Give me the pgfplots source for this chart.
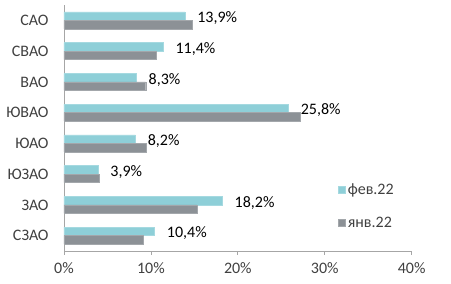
\documentclass[border=0pt]{standalone}
\usepackage{pgfplots}
\pgfplotsset{compat=1.18}
\usepackage{fontspec}
\setmainfont{Carlito}
\definecolor{feb}{HTML}{8ECFD8}
\definecolor{jan}{HTML}{8C9196}
\definecolor{axgray}{HTML}{A6A6A6}
\definecolor{txt}{HTML}{404040}
\begin{document}
\begin{tikzpicture}
\path[use as bounding box] (0,0) rectangle (451pt,284pt);
\begin{axis}[
  at={(64pt,33pt)}, anchor=south west,
  scale only axis, width=347.7pt, height=246pt,
  xbar, bar width=8.5pt,
  xmin=0, xmax=40, ymin=-0.5, ymax=7.5,
  axis x line*=bottom, axis y line*=left,
  axis line style={axgray, line width=0.8pt},
  xtick={0,10,20,30,40},
  xticklabel={\pgfmathprintnumber{\tick}\%},
  /pgf/number format/assume math mode=true,
  ytick={0,...,7},
  yticklabels={СЗАО,ЗАО,ЮЗАО,ЮАО,ЮВАО,ВАО,СВАО,САО},
  minor ytick={-0.5,0.5,...,7.5},
  major tick length=4pt, minor tick length=4pt,
  tick align=outside,
  tick style={axgray, line width=0.8pt},
  ytick style={draw=none},
  minor tick style={axgray, line width=0.8pt, draw=axgray},
  every tick label/.append style={font=\fontsize{16}{18}\selectfont, text=txt},
  xticklabel style={yshift=-4pt},
  yticklabel style={xshift=-8pt},
  legend style={at={(axis description cs:0.78,0.29)}, anchor=north west, draw=none, fill=none,
    font=\fontsize{16}{18}\selectfont, text=txt, row sep=17pt,
    /tikz/every even column/.append style={column sep=2pt}},
  legend cell align=left,
  legend image code/.code={\fill[#1] (0pt,-3.5pt) rectangle (7pt,3.5pt);},
]
\addplot[fill=feb, draw=feb!80!white, bar shift=4.25pt,
  nodes near coords={\pgfmathprintnumber[fixed,fixed zerofill,precision=1,use comma]{\pgfplotspointmeta}\%},
  nodes near coords style={anchor=west, xshift=9pt, yshift=-2pt, font=\fontsize{16}{18}\selectfont, text=black},
  point meta=x]
  coordinates {(10.4,0) (18.2,1) (3.9,2) (8.2,3) (25.8,4) (8.3,5) (11.4,6) (13.9,7)};
\addlegendentry{фев.22}
\addplot[fill=jan, draw=jan!80!white, bar shift=-4.25pt]
  coordinates {(9.1,0) (15.3,1) (4.0,2) (9.5,3) (27.2,4) (9.4,5) (10.6,6) (14.8,7)};
\addlegendentry{янв.22}
\end{axis}
\end{tikzpicture}
\end{document}
